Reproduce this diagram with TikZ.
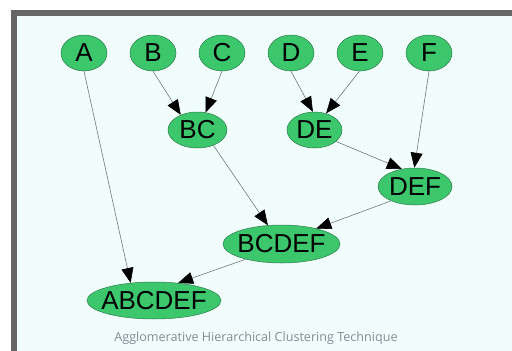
\documentclass[tikz,border=0pt]{standalone}
\usepackage{fontspec}
\setmainfont{Liberation Sans}
\newfontfamily\captionfont{Open Sans}
\usetikzlibrary{shapes.geometric,arrows.meta}

\definecolor{framegray}{HTML}{666666}
\definecolor{panelbg}{HTML}{F1FCFC}
\definecolor{nodegreen}{HTML}{3CC76C}
\definecolor{nodeedge}{HTML}{2E7D4A}
\definecolor{linkgray}{HTML}{777777}
\definecolor{captiongray}{HTML}{858C94}

% text that does not widen the ellipse around it
\newcommand\cluslabel[1]{\makebox[0pt]{#1}}

\tikzset{
  cluster/.style n args={2}{ellipse, draw=nodeedge, line width=0.5pt,
    fill=nodegreen, inner sep=0pt, minimum width=#1, minimum height=#2,
    font=\fontsize{26}{26}\selectfont},
  merge/.style={draw=linkgray, line width=0.6pt,
    -{Triangle[length=15pt,width=12pt,fill=black,color=black]}}
}

\begin{document}
\begin{tikzpicture}[x=1pt,y=-1pt]
  \useasboundingbox (0,0) rectangle (512,351);
  % window frame and panel
  \fill[white] (0,0) rectangle (512,351);
  \fill[framegray] (11,10) rectangle (512,351);
  \fill[panelbg] (17,16) rectangle (512,351);

  % singletons
  \node[cluster={46pt}{36pt}] (A) at (84,53) {\cluslabel{A}};
  \node[cluster={46pt}{36pt}] (B) at (153,53) {\cluslabel{B}};
  \node[cluster={46pt}{36pt}] (C) at (222,53) {\cluslabel{C}};
  \node[cluster={46pt}{36pt}] (D) at (291,53) {\cluslabel{D}};
  \node[cluster={46pt}{36pt}] (E) at (360,53) {\cluslabel{E}};
  \node[cluster={46pt}{36pt}] (F) at (429,53) {\cluslabel{F}};

  % merged clusters
  \node[cluster={59pt}{36pt}] (BC) at (197.5,130) {\cluslabel{BC}};
  \node[cluster={55pt}{36pt}] (DE) at (314.5,130) {\cluslabel{DE}};
  \node[cluster={74pt}{37pt}] (DEF) at (415,186.5) {\cluslabel{DEF}};
  \node[cluster={117pt}{38pt}] (BCDEF) at (281.5,244) {\cluslabel{BCDEF}};
  \node[cluster={134pt}{37pt}] (ABCDEF) at (154,300.5) {\cluslabel{ABCDEF}};

  % merge links
  \draw[merge] (A.south) -- (ABCDEF.143);
  \draw[merge] (B.south) -- (BC.138);
  \draw[merge] (C.south) -- (BC.65);
  \draw[merge] (D.south) -- (DE.95);
  \draw[merge] (E.-92) -- (DE.55);
  \draw[merge] (F.south) -- (DEF.92);
  \draw[merge] (DE.-28) -- (DEF.127);
  \draw[merge] (BC.-44) -- (BCDEF.126);
  \draw[merge] (DEF.211) -- (BCDEF.24);
  \draw[merge] (BCDEF.203) -- (ABCDEF.36.5);

  \node[font=\captionfont\fontsize{12.6}{14}\selectfont, text=captiongray]
    (caption) at (256,338) {Agglomerative Hierarchical Clustering Technique};
\end{tikzpicture}
\end{document}
